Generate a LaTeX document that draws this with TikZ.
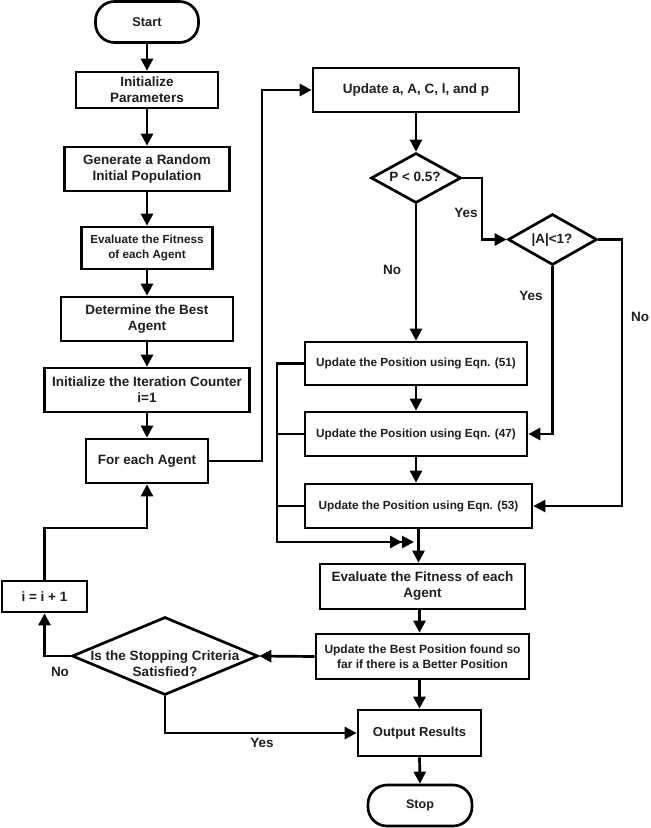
\documentclass[tikz,border=0pt]{standalone}
\usepackage{fontspec}
\setmainfont{Liberation Sans}
\usetikzlibrary{shapes.geometric,arrows.meta,calc}
\begin{document}
\begin{tikzpicture}[x=1pt,y=-1pt,
  every node/.style={font=\bfseries\fontsize{13.5}{16}\selectfont, align=center, inner sep=0pt, text=black!88},
  box/.style={draw=black, line width=2.7pt, fill=white, rectangle},
  term/.style={draw=black, line width=2.7pt, fill=white, rectangle, rounded corners=19pt},
  dia/.style={draw=black, line width=2.7pt, fill=white, diamond},
  conn/.style={line width=2.7pt},
  arr/.style={conn, -{Triangle[length=12pt,width=12pt]}},
  dblarr/.style={conn, -{Triangle[length=12pt,width=12pt]Triangle[length=12pt,width=12pt]}},
  eqn/.style={box, font=\bfseries\fontsize{11.8}{14}\selectfont},
]
\useasboundingbox (0,0) rectangle (651,828);

% left column
\node[term, minimum width=103, minimum height=41, font=\bfseries\fontsize{12.8}{15}\selectfont] (start) at (147,22) {Start};
\node[box, minimum width=142, minimum height=36] (ip) at (147,90) {Initialize\\Parameters};
\node[box, minimum width=165, minimum height=44] (gen) at (147,169) {Generate a Random\\Initial Population};
\node[box, minimum width=131, minimum height=42, font=\bfseries\fontsize{11.7}{15}\selectfont] (ev1) at (147,248) {Evaluate the Fitness\\of each Agent};
\node[box, minimum width=172, minimum height=44] (det) at (147,319) {Determine the Best\\Agent};
\node[box, minimum width=205, minimum height=44] (iic) at (147,390) {Initialize the Iteration Counter\\i=1};
\node[box, minimum width=122, minimum height=44] (fe) at (147,461) {For each Agent};
\node[box, minimum width=85, minimum height=31] (inc) at (44.5,596.5) {i = i + 1};
\node[dia, minimum width=186, minimum height=78] (stc) at (165,656) {};
\node (stct) at (165,664) {Is the Stopping Criteria\\Satisfied?};

% right column
\node[box, minimum width=206, minimum height=44] (upd) at (416,90) {Update a, A, C, l, and p};
\node[dia, minimum width=90, minimum height=50] (p) at (416,178) {};
\node (pt) at (415,177) {P < 0.5?};
\node[dia, minimum width=89, minimum height=51] (a) at (552.5,239.5) {};
\node (at) at (552,240) {|A|<1?};
\node[eqn, minimum width=222, minimum height=43] (e51) at (416,363.5) {Update the Position using Eqn. (51)};
\node[eqn, minimum width=222, minimum height=44] (e47) at (416,434) {Update the Position using Eqn. (47)};
\node[eqn, minimum width=227, minimum height=44] (e53) at (418.5,506) {Update the Position using Eqn. (53)};
\node[box, minimum width=205, minimum height=45] (ev2) at (422.5,586.5) {Evaluate the Fitness of each\\Agent};
\node[box, minimum width=213, minimum height=45, font=\bfseries\fontsize{12}{15}\selectfont] (ub) at (422.5,656.5) {Update the Best Position found so\\far if there is a Better Position};
\node[box, minimum width=123, minimum height=46, font=\bfseries\fontsize{13}{15}\selectfont] (out) at (419.5,733) {Output Results};
\node[term, minimum width=104, minimum height=41, font=\bfseries\fontsize{12.5}{15}\selectfont] (stp) at (420,805.5) {Stop};

% labels
\node (yes1) at (466,213) {Yes};
\node (no1) at (392,270) {No};
\node (yes2) at (531,296) {Yes};
\node (no2) at (640,317) {No};
\node (no3) at (60,672) {No};
\node (yes3) at (262,743) {Yes};

% connectors left column
\draw[arr] (start.south) -- (ip.north);
\draw[arr] (ip.south) -- (gen.north);
\draw[arr] (gen.south) -- (ev1.north);
\draw[arr] (ev1.south) -- (det.north);
\draw[arr] (det.south) -- (iic.north);
\draw[arr] (iic.south) -- (fe.north);
\coordinate (c1) at (262,461);
\draw[arr] (fe.east) -- (c1) |- (upd.west);

% right column
\draw[arr] (upd.south) -- (p.north);
\draw[arr] (p.south) -- (p.south |- e51.north);
\coordinate (j1) at (482,178);
\draw[arr] (p.east) -- (j1) |- (a.west);
\draw[arr] (a.south) |- (e47.east);
\coordinate (j2) at (622,239.5);
\draw[arr] (a.east) -- (j2) |- (e53.east);
\draw[arr] (e51.south) -- (e51.south |- e47.north);
\draw[arr] (e47.south) -- (e47.south |- e53.north);
\coordinate (b1) at (277,542);
\coordinate (mt) at (414,542);
\draw[dblarr] (e51.west) -| (b1) -- (mt);
\draw[conn] (e47.west) -- (e47.west -| b1);
\draw[conn] (e53.west) -- (e53.west -| b1);
\draw[arr] (e53.south) -- (e53.south |- ev2.north);
\draw[arr] (ev2.south -| out) -- (out |- ub.north);
\draw[arr] (ub.south -| out) -- (out.north);
\draw[arr] (out.south) -- (stp.north);
\draw[arr] (ub.west) -- (stc.east);
\draw[arr] (stc.west) -| (inc.south);
\coordinate (j3) at (147,528);
\draw[arr] (inc.north) |- (j3) -- (fe.south);
\draw[arr] (stc.south) |- (out.west);
\end{tikzpicture}
\end{document}
